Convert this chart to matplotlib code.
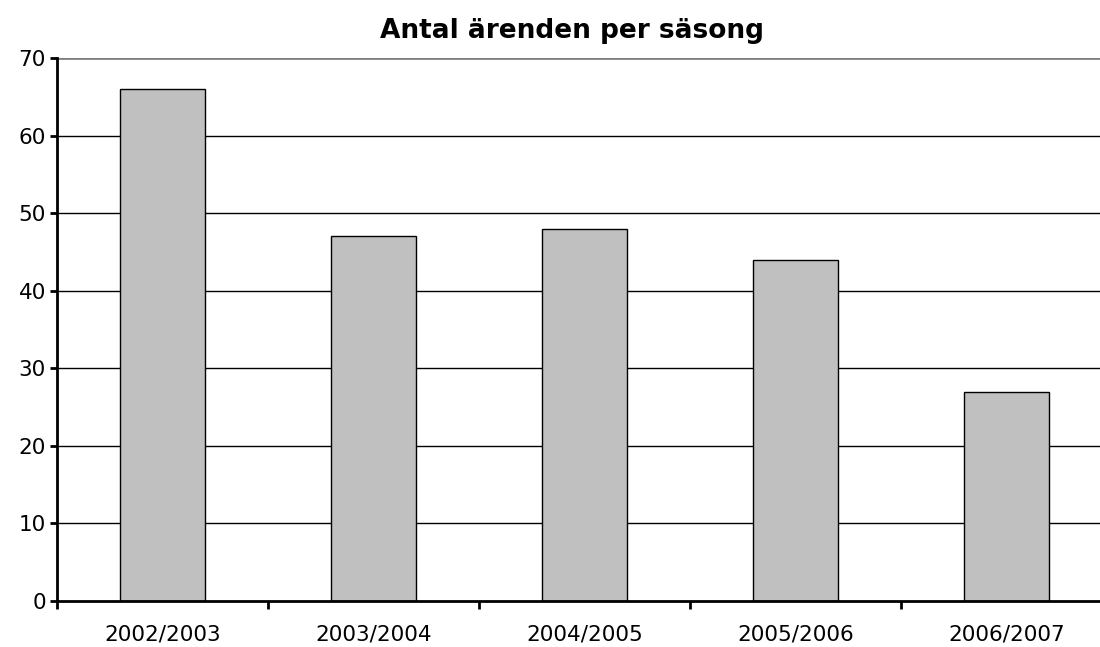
import matplotlib
matplotlib.use("Agg")
import matplotlib.pyplot as plt
import numpy as np

seasons = ["2002/2003", "2003/2004", "2004/2005", "2005/2006", "2006/2007"]
cases = [66, 47, 48, 44, 27]
y_ticks = [0, 10, 20, 30, 40, 50, 60, 70]

fig = plt.figure(figsize=(11, 6.47), dpi=100)
# plot area runs slightly past the right edge, as in the original
ax = fig.add_axes([57 / 1100, 46 / 647, 1055 / 1100, 543 / 647])

x = np.arange(len(seasons))
ax.bar(x, cases, width=0.4, color="#c0c0c0", edgecolor="black", linewidth=1, zorder=3)

ax.set_xlim(-0.5, len(seasons) - 0.5)
ax.set_ylim(0, 70)
ax.set_yticks(y_ticks)
for v in y_ticks[1:]:
    if v == 70:
        ax.axhline(v, color="#808080", linewidth=2, zorder=1)
    else:
        ax.axhline(v, color="black", linewidth=1, zorder=1)

# category labels centred under bars, ticks between categories
ax.set_xticks(x)
ax.set_xticklabels(seasons, fontsize=15.5)
ax.tick_params(axis="x", which="major", length=0, pad=17)
ax.set_xticks(np.arange(len(seasons) + 1) - 0.5, minor=True)
ax.tick_params(axis="x", which="minor", length=6, width=2, direction="out")
ax.tick_params(axis="y", length=5, width=2, labelsize=15.5, pad=3)

for side in ["top", "right"]:
    ax.spines[side].set_visible(False)
for side in ["left", "bottom"]:
    ax.spines[side].set_linewidth(2)
ax.spines["left"].set_zorder(4)
ax.spines["bottom"].set_zorder(4)

fig.text(572 / 1100, 1 - 31 / 647, "Antal ärenden per säsong", fontsize=19,
         fontweight="bold", ha="center", va="center")

fig.savefig("out.png", dpi=100)
